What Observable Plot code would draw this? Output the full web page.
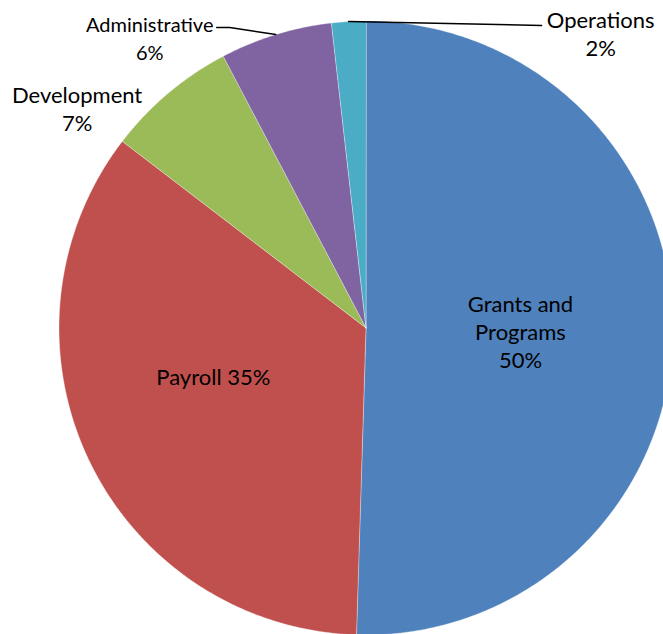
<!DOCTYPE html>
<html><head><meta charset="utf-8">
<script src="https://cdn.jsdelivr.net/npm/d3@7"></script>
<script src="https://cdn.jsdelivr.net/npm/@observablehq/plot@0.6"></script>
<style>html,body{margin:0;padding:0;background:#fff;overflow:hidden;}</style>
</head><body><div id="chart"></div>
<script>
// Data
const categories = ["Grants and Programs", "Payroll", "Development", "Administrative", "Operations"];
const values = [50.49, 34.91, 6.9, 5.9, 1.8];
const colors = ["#4F81BD", "#C0504D", "#9BBB59", "#8064A2", "#4BACC6"];
const labelTemplates = ["Grants and\nPrograms\n{p}", "Payroll {p}", "Development\n{p}", "Administrative\n{p}", "Operations\n{p}"];

// Layout (pixels)
const W = 663, H = 634, CX = 365.5, CY = 327.5, R = 307;
const placement = [
  {k: 0.5, nudge: [1, 1], size: 22},
  {k: 0.5, nudge: [-14, -18], size: 22},
  {k: 1, nudge: [-91, 15], size: 22},
  {k: 1, nudge: [-126, 2], size: 20, leader: [[-46, -7], [-59, -7]]},
  {k: 1, nudge: [252, 12], size: 22, leader: [[193, 4]]}
];

const arcs = d3.pie().sort(null).value(d => d)(values);
const pt = (a, k) => [k * Math.sin(a), k * Math.cos(a)];

const poly = [];
arcs.forEach((a, i) => {
  const name = categories[i];
  poly.push({name, x: 0, y: 0});
  const n = Math.max(4, Math.ceil((a.endAngle - a.startAngle) / (Math.PI / 360)));
  for (let j = 0; j <= n; j++) {
    const t = a.startAngle + (a.endAngle - a.startAngle) * j / n;
    const [x, y] = pt(t, 1);
    poly.push({name, x, y});
  }
});

const labels = [], leaders = [];
arcs.forEach((a, i) => {
  const p = placement[i];
  const mid = (a.startAngle + a.endAngle) / 2;
  const [x0, y0] = pt(mid, p.k);
  const pct = Math.round(values[i] / d3.sum(values) * 100) + "%";
  labels.push({
    text: labelTemplates[i].replace("{p}", pct),
    x: x0 + p.nudge[0] / R,
    y: y0 - p.nudge[1] / R,
    size: p.size
  });
  if (p.leader) {
    leaders.push({name: categories[i], x: x0, y: y0});
    p.leader.forEach(([dx, dy]) => leaders.push({name: categories[i], x: x0 + dx / R, y: y0 - dy / R}));
  }
});

const textMarks = [22, 20].map(s =>
  Plot.text(labels.filter(d => d.size === s), {
    x: "x", y: "y", text: "text", fontSize: s, lineHeight: 28 / s,
    fill: "#000", fontFamily: "Lato, sans-serif"
  })
);

const chart = Plot.plot({
  width: W, height: H,
  margin: 0,
  x: {domain: [-CX / R, (W - CX) / R], axis: null},
  y: {domain: [-(H - CY) / R, CY / R], axis: null},
  color: {domain: categories, range: colors},
  style: {fontFamily: "Lato, sans-serif", background: "#fff"},
  marks: [
    Plot.line(poly, {x: "x", y: "y", z: "name", fill: "name", stroke: "white", strokeWidth: 0.6, strokeOpacity: 0.6, curve: "linear-closed"}),
    Plot.line(leaders, {x: "x", y: "y", z: "name", stroke: "black", strokeWidth: 1.5}),
    ...textMarks
  ]
});
document.getElementById("chart").appendChild(chart);
</script>
</body></html>
